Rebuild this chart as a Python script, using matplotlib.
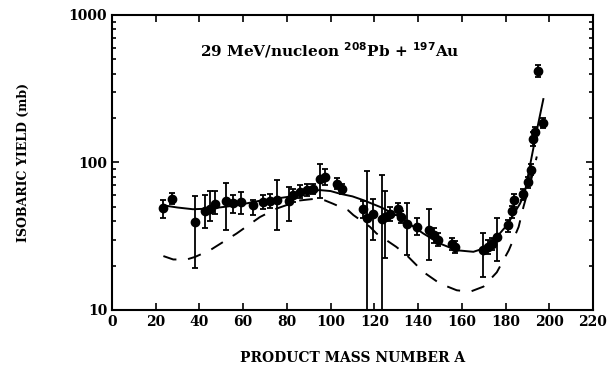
"""Isobaric yield vs product mass number, 29 MeV/nucleon Pb + Au"""

import matplotlib

matplotlib.use("Agg")
import matplotlib.pyplot as plt
from matplotlib.ticker import FixedLocator, LogLocator, NullFormatter

# measured points: mass number, yield (mb), error bar limits (mb)
mass = [23.5, 27.6, 38.0, 42.5, 44.8, 47.1, 52.0, 55.5, 59.0, 64.6,
        69.2, 72.3, 75.3, 81.1, 82.9, 86.0, 89.1, 92.1, 95.2, 97.4,
        102.8, 105.1, 115.0, 116.5, 119.5, 123.4, 124.9, 127.2, 131.0, 132.1,
        134.8, 139.4, 145.1, 147.4, 149.3, 155.4, 156.9, 169.6, 172.1, 173.7,
        176.0, 181.3, 182.8, 183.9, 187.9, 190.4, 191.5, 192.7, 193.5, 197.3,
        195.0]
yld = [49.4, 56.9, 39.5, 46.9, 48.7, 52.0, 54.5, 53.1, 53.9, 51.8,
       53.9, 54.8, 55.3, 54.8, 59.8, 63.0, 64.7, 66.4, 77.6, 79.6,
       71.8, 66.4, 48.0, 42.3, 45.0, 41.7, 42.7, 45.0, 48.7, 42.7,
       38.5, 36.6, 35.1, 32.1, 29.7, 28.2, 26.8, 25.4, 26.8, 28.2,
       31.3, 37.5, 46.7, 55.4, 60.8, 73.6, 89.3, 144.6, 160.3, 184.4,
       418.6]
y_hi = [55.9, 62.0, 58.8, 59.8, 64.5, 64.5, 73.0, 60.5, 63.0, 55.4,
        60.0, 61.0, 76.2, 68.2, 66.0, 70.0, 71.0, 72.0, 98.0, 90.0,
        78.0, 72.0, 55.0, 88.0, 56.9, 82.7, 63.6, 50.0, 53.0, 47.0,
        53.0, 42.0, 48.6, 36.0, 33.0, 31.0, 29.5, 33.0, 30.0, 31.0,
        42.3, 41.0, 51.0, 61.0, 66.0, 80.0, 97.0, 160.0, 175.0, 200.0,
        455.0]
y_lo = [42.3, 52.0, 19.3, 36.2, 40.0, 45.0, 34.7, 45.4, 45.0, 43.9,
        48.0, 49.0, 35.1, 40.1, 54.0, 57.0, 59.0, 61.0, 57.0, 70.0,
        66.0, 61.0, 42.0, 5.0, 29.7, 5.0, 22.5, 40.0, 44.0, 39.0,
        23.5, 32.0, 21.8, 28.5, 27.0, 25.5, 24.5, 16.8, 24.0, 25.5,
        21.5, 34.0, 42.0, 50.0, 56.0, 67.0, 82.0, 130.0, 147.0, 170.0,
        382.0]

# calculation, solid line
fit_a = [23.5, 30, 37, 45, 57, 67, 80, 89, 95, 100, 104.3, 110, 115, 123,
         127.2, 133, 134.8, 142.4, 150, 157.7, 165.3, 169.9, 176, 180.6,
         186.6, 188.7, 192, 194.5, 197.3]
fit_y = [51.2, 49.5, 48.2, 48.7, 51.2, 54.8, 58.3, 63.0, 65.0, 64.0, 61.4,
         58.9, 55.5, 49.7, 46.2, 41.7, 39.5, 33.0, 28.2, 25.4, 24.8, 26.1,
         31.3, 37.5, 52.5, 61.5, 110.0, 170.0, 269.0]

# calculation, dashed line
calc_a = [23.5, 28, 34.2, 38, 44.8, 57, 67.7, 75.3, 86, 93.6, 97.4, 101,
          108, 110.4, 118, 121, 130, 134.8, 142.4, 150, 157.7, 163.8, 169.9,
          176, 181.5, 186, 188.2, 192, 194.3]
calc_y = [23.2, 22.0, 22.0, 22.9, 25.4, 33.0, 42.7, 48.7, 55.3, 56.9, 55.3,
          52.6, 47.4, 44.0, 36.6, 33.0, 26.8, 23.5, 18.1, 15.1, 13.6, 13.3,
          14.4, 18.0, 25.4, 36.6, 50.0, 79.3, 109.8]

plt.rcParams["font.family"] = "DejaVu Serif"

fig = plt.figure(figsize=(6.1, 3.81), dpi=100)
ax = fig.add_axes([0.1836, 0.1864, 0.7885, 0.7743])

err = [[y - lo for y, lo in zip(yld, y_lo)], [hi - y for y, hi in zip(yld, y_hi)]]
ax.errorbar(mass, yld, yerr=err, fmt="o", color="black", ms=6,
            elinewidth=1.3, capsize=2.5, capthick=1.3, zorder=3)
ax.plot(fit_a, fit_y, "-", color="black", lw=1.4)
ax.plot(calc_a, calc_y, color="black", lw=1.4, linestyle=(0, (7, 6)))

ax.set_yscale("log")
ax.set_xlim(0, 220)
ax.set_ylim(10, 1000)
ax.xaxis.set_major_locator(FixedLocator(range(0, 221, 20)))
ax.yaxis.set_major_locator(FixedLocator([10, 100, 1000]))
ax.yaxis.set_minor_locator(LogLocator(base=10, subs=range(2, 10)))
ax.yaxis.set_minor_formatter(NullFormatter())
ax.set_yticklabels(["10", "100", "1000"])

ax.tick_params(which="both", direction="in", top=True, right=True, width=1.2)
ax.tick_params(which="major", length=5, labelsize=10)
ax.tick_params(which="minor", length=3)
for lab in ax.get_xticklabels() + ax.get_yticklabels():
    lab.set_fontweight("bold")
for s in ax.spines.values():
    s.set_linewidth(1.5)

ax.set_xlabel("PRODUCT MASS NUMBER A", fontsize=10, fontweight="bold",
              labelpad=16)
ax.set_ylabel("ISOBARIC YIELD (mb)", fontsize=9, fontweight="bold",
              labelpad=28)
ax.text(0.183, 0.86, r"29 MeV/nucleon $^{\mathbf{208}}$Pb + $^{\mathbf{197}}$Au",
        transform=ax.transAxes, fontsize=11, fontweight="bold")

fig.savefig("out.png", dpi=100)
